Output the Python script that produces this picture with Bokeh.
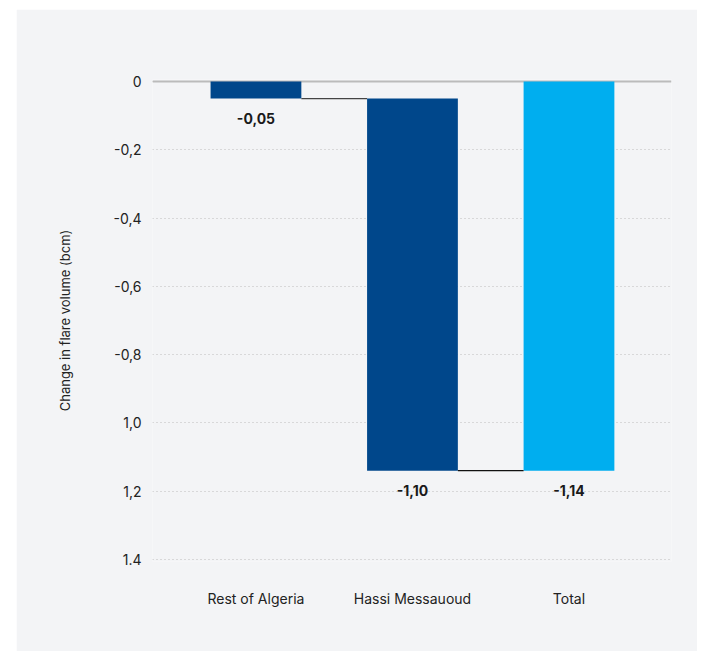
from bokeh.plotting import figure
from bokeh.models import Range1d, FixedTicker, ColumnDataSource, LabelSet
from bokeh.core.properties import value
from bokeh.embed import file_html
from bokeh.resources import INLINE

# ---- data ----
categories = ["Rest of Algeria", "Hassi Messauoud", "Total"]
bar_top = [0.0, -0.05, 0.0]
bar_bottom = [-0.05, -1.14, -1.14]
value_labels = ["-0,05", "-1,10", "-1,14"]
bar_colors = ["#00478B", "#00478B", "#00AEEF"]
y_ticks = [0, -0.2, -0.4, -0.6, -0.8, -1.0, -1.2, -1.4]
y_tick_labels = ["0", "-0,2", "-0,4", "-0,6", "-0,8", "1,0", "1,2", "1.4"]

FONT = "Inter"
BG = "#F3F4F6"

x_pos = list(range(len(categories)))

p = figure(width=681, height=642, output_backend="svg", toolbar_location=None,
           x_range=Range1d(-0.661, 2.655), y_range=Range1d(-1.4059, 0.0059),
           min_border_left=136, min_border_right=26, min_border_top=70, min_border_bottom=90,
           background_fill_color=BG, border_fill_color=BG, outline_line_color=None)
p.margin = (9, 0, 0, 16)

src = ColumnDataSource(dict(x=x_pos, top=bar_top, bottom=bar_bottom,
                            color=bar_colors, label=value_labels))

# grid
p.xgrid.visible = False
p.ygrid.ticker = FixedTicker(ticks=y_ticks)
p.ygrid.grid_line_color = "#BDBDBD"
p.ygrid.grid_line_dash = "1 3"
p.ygrid.grid_line_width = 1

# zero line
p.line(x=[-0.661, 2.655], y=[0, 0], line_color="#BBBBBB", line_width=2)

# bars
p.vbar(x="x", top="top", bottom="bottom", width=0.58, fill_color="color",
       line_color=None, source=src)

# connectors
w = 0.58
for i in range(len(categories) - 1):
    p.line(x=[x_pos[i] + w / 2, x_pos[i + 1] - w / 2],
           y=[bar_bottom[i], bar_bottom[i]],
           line_color="#444444" if i == 0 else "#111111", line_width=1.3)

labels = LabelSet(x="x", y="bottom", text="label", source=src,
                  y_offset=-20, text_align="center", text_baseline="middle",
                  text_font=value(FONT), text_font_size=value("14px"),
                  text_font_style=value("bold"), text_color=value("#1A1A1A"))
p.add_layout(labels)

# axes
p.yaxis.ticker = FixedTicker(ticks=y_ticks)
p.yaxis.major_label_overrides = {t: l for t, l in zip(y_ticks, y_tick_labels)}
p.yaxis.axis_line_color = None
p.yaxis.major_tick_line_color = None
p.yaxis.minor_tick_line_color = None
p.yaxis.major_tick_out = 0
p.yaxis.major_label_standoff = 11
p.yaxis.major_label_text_font = FONT
p.yaxis.major_label_text_font_size = "14px"
p.yaxis.major_label_text_color = "#222222"
p.yaxis.axis_label = "Change in flare volume (bcm)"
p.yaxis.axis_label_text_font = FONT
p.yaxis.axis_label_text_font_size = "13px"
p.yaxis.axis_label_text_font_style = "normal"
p.yaxis.axis_label_text_color = "#222222"
p.yaxis.axis_label_standoff = 38

p.xaxis.ticker = FixedTicker(ticks=x_pos)
p.xaxis.major_label_overrides = {i: c for i, c in zip(x_pos, categories)}
p.xaxis.axis_line_color = None
p.xaxis.major_tick_line_color = None
p.xaxis.minor_tick_line_color = None
p.xaxis.major_tick_out = 0
p.xaxis.major_label_standoff = 28
p.xaxis.major_label_text_font = FONT
p.xaxis.major_label_text_font_size = "14px"
p.xaxis.major_label_text_color = "#222222"

open("out.html", "w").write(file_html(p, INLINE))
